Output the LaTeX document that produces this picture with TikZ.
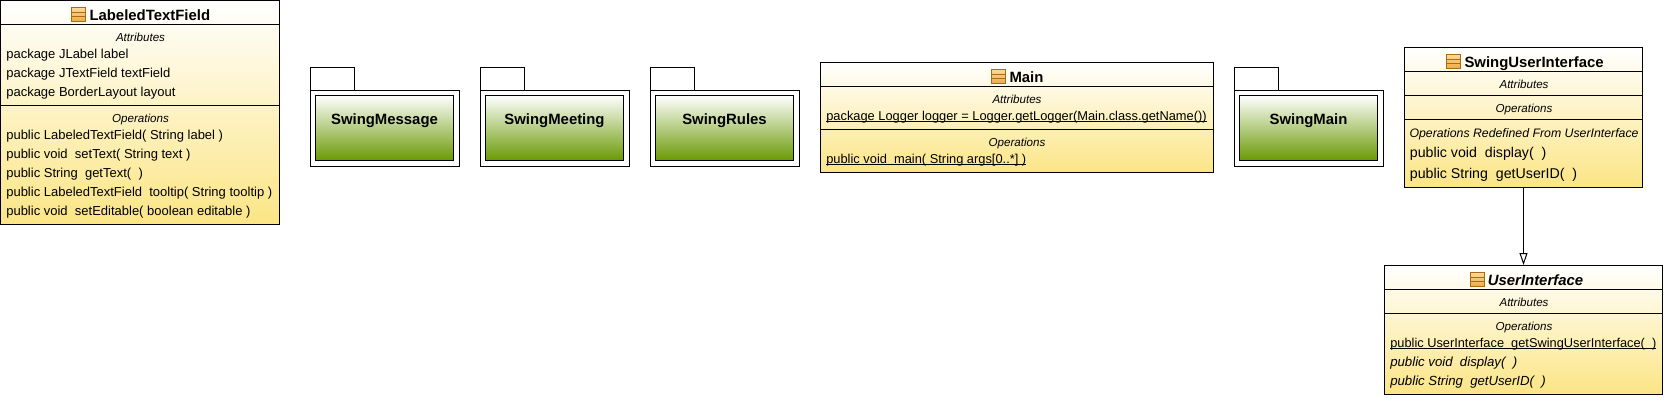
\documentclass[tikz,border=0pt]{standalone}
\usepackage{fontspec}
\setmainfont{Liberation Sans}
\usepackage{tikz}
\usetikzlibrary{arrows.meta}
\definecolor{classbottom}{HTML}{FBE585}
\definecolor{pkgbottom}{HTML}{6B9A05}
\definecolor{icontop}{HTML}{F9DB98}
\definecolor{iconbottom}{HTML}{EDAA48}
\definecolor{iconline}{HTML}{AD6A10}
\newcommand{\titlefont}{\fontsize{14.9}{17}\selectfont\bfseries}
\newcommand{\memberfont}{\fontsize{13}{15}\selectfont}
\newcommand{\sectfont}{\fontsize{11.6}{14}\selectfont\itshape}
\newcommand{\lowline}[1]{\setbox0=\hbox{#1}\leavevmode\rlap{\rule[-1.7pt]{\wd0}{0.9pt}}\box0}

\begin{document}
\begin{tikzpicture}[x=1pt,y=-1pt,line width=1pt]
		\tikzstyle{classbox}=[draw=black,rectangle,inner sep=0pt,top color=white,bottom color=classbottom]
		\tikzstyle{pkgbox}=[draw=black,rectangle,inner sep=0pt,outer sep=0pt,fill=white,anchor=north west]
		\tikzstyle{pkginner}=[pkgbox,fill=none,top color=white,bottom color=pkgbottom]
		\tikzstyle{pkgtitle}=[inner sep=0pt,anchor=base,font=\titlefont]
		\tikzstyle{classtitle}=[inner sep=0pt,anchor=base west,font=\titlefont]
		\tikzstyle{sect}=[inner sep=0pt,anchor=base,font=\sectfont]
		\tikzstyle{member}=[inner sep=0pt,anchor=base west,font=\memberfont]
		\tikzstyle{classicon}=[rectangle,draw=iconline,line width=0.9pt,inner sep=0pt,
			minimum width=14pt,minimum height=14pt,top color=icontop,bottom color=iconbottom,
			path picture={
				\draw[iconline,line width=0.8pt] ([yshift=-4.5pt]path picture bounding box.north west) -- ([yshift=-4.5pt]path picture bounding box.north east);
				\draw[iconline,line width=0.8pt] ([yshift=-9pt]path picture bounding box.north west) -- ([yshift=-9pt]path picture bounding box.north east);
			}]
		\useasboundingbox (0,0) rectangle (1668,400);

		% Draw the packages
		\foreach \x/\name in {310.5/SwingMessage,480.5/SwingMeeting,650.5/SwingRules,1234.5/SwingMain}{
			\node[pkgbox,anchor=south west,minimum width=44pt,minimum height=23pt] (tab-\name) at (\x,90.5) {};
			\node[pkgbox,minimum width=149pt,minimum height=75.5pt] (outer-\name) at (\x,90.5) {};
			\node[pkginner,minimum width=138pt,minimum height=64.5pt] (inner-\name) at (\x+5,95.5) {};
			\node[pkgtitle] (label-\name) at (\x+74,124) {\name};
		}

		% Draw the LabeledTextField class
		\node[classbox,minimum width=278.5pt,minimum height=223.5pt] (LTF) at (139.75,112.25) {};
		\draw (LTF.west |- 0,24) -- (LTF.east |- 0,24);
		\draw (LTF.west |- 0,105) -- (LTF.east |- 0,105);
		\node[classicon] (LTF-icon) at (78.5,14.5) {};
		\node[classtitle] (LTF-title) at (89,20) {LabeledTextField};
		\node[sect] (LTF-attr) at (140.5,41) {Attributes};
		\node[member] (LTF-a1) at (5.8,58) {package JLabel label};
		\node[member] (LTF-a2) at (5.8,77) {package JTextField textField};
		\node[member] (LTF-a3) at (5.8,96) {package BorderLayout layout};
		\node[sect] (LTF-oper) at (140.5,122) {Operations};
		\node[member] (LTF-o1) at (5.8,139) {public LabeledTextField( String label )};
		\node[member] (LTF-o2) at (5.8,158) {public void\ \ setText( String text )};
		\node[member] (LTF-o3) at (5.8,177) {public String\ \ getText(\ \ )};
		\node[member] (LTF-o4) at (5.8,196) {public LabeledTextField\ \ tooltip( String tooltip )};
		\node[member] (LTF-o5) at (5.8,215) {public void\ \ setEditable( boolean editable )};

		% Draw the Main class
		\node[classbox,minimum width=392.5pt,minimum height=109.5pt] (Main) at (1016.75,117.25) {};
		\draw (Main.west |- 0,86) -- (Main.east |- 0,86);
		\draw (Main.west |- 0,129) -- (Main.east |- 0,129);
		\node[classicon] (Main-icon) at (998.5,76.5) {};
		\node[classtitle] (Main-title) at (1009,82) {Main};
		\node[sect] (Main-attr) at (1017,103) {Attributes};
		\node[member,font=\fontsize{12.85}{15}\selectfont] (Main-a1) at (825.8,120) {\lowline{package Logger logger = Logger.getLogger(Main.class.getName())}};
		\node[sect] (Main-oper) at (1017,146) {Operations};
		\node[member,font=\fontsize{12.85}{15}\selectfont] (Main-o1) at (825.8,163) {\lowline{public void\ \ main( String args[0..*] )}};

		% Draw the SwingUserInterface class
		\node[classbox,minimum width=238pt,minimum height=139.5pt] (SUI) at (1523.5,117.25) {};
		\draw (SUI.west |- 0,71) -- (SUI.east |- 0,71);
		\draw (SUI.west |- 0,95) -- (SUI.east |- 0,95);
		\draw (SUI.west |- 0,119) -- (SUI.east |- 0,119);
		\node[classicon] (SUI-icon) at (1453.5,61.5) {};
		\node[classtitle] (SUI-title) at (1464,67) {SwingUserInterface};
		\node[sect] (SUI-attr) at (1524,88) {Attributes};
		\node[sect] (SUI-oper) at (1524,112) {Operations};
		\node[sect,anchor=base west,font=\fontsize{12.3}{14}\selectfont\itshape] (SUI-redef) at (1409,137) {Operations Redefined From UserInterface};
		\node[member,font=\fontsize{14.2}{15}\selectfont] (SUI-o1) at (1409.4,157) {public void\ \ display(\ \ )};
		\node[member,font=\fontsize{14.2}{15}\selectfont] (SUI-o2) at (1409.4,178) {public String\ \ getUserID(\ \ )};

		% Draw the UserInterface class
		\node[classbox,minimum width=278pt,minimum height=128.5pt] (UI) at (1523.5,329.75) {};
		\draw (UI.west |- 0,289.5) -- (UI.east |- 0,289.5);
		\draw (UI.west |- 0,313.5) -- (UI.east |- 0,313.5);
		\node[classicon] (UI-icon) at (1477.5,279.5) {};
		\node[classtitle,font=\titlefont\itshape] (UI-title) at (1487.4,285) {UserInterface};
		\node[sect] (UI-attr) at (1524,306) {Attributes};
		\node[sect] (UI-oper) at (1524,330) {Operations};
		\node[member,font=\fontsize{12.8}{15}\selectfont] (UI-o1) at (1389.8,347) {\lowline{public UserInterface\ \ getSwingUserInterface(\ \ )}};
		\node[member,font=\fontsize{13.2}{15}\selectfont\itshape] (UI-o2) at (1389.8,366) {public void\ \ display(\ \ )};
		\node[member,font=\fontsize{13.2}{15}\selectfont\itshape] (UI-o3) at (1389.8,385) {public String\ \ getUserID(\ \ )};

		% Connect the SwingUserInterface class with the UserInterface class
		\draw[-{Triangle[open,length=12pt,width=8pt]}] (SUI) -- (UI);
\end{tikzpicture}
\end{document}
